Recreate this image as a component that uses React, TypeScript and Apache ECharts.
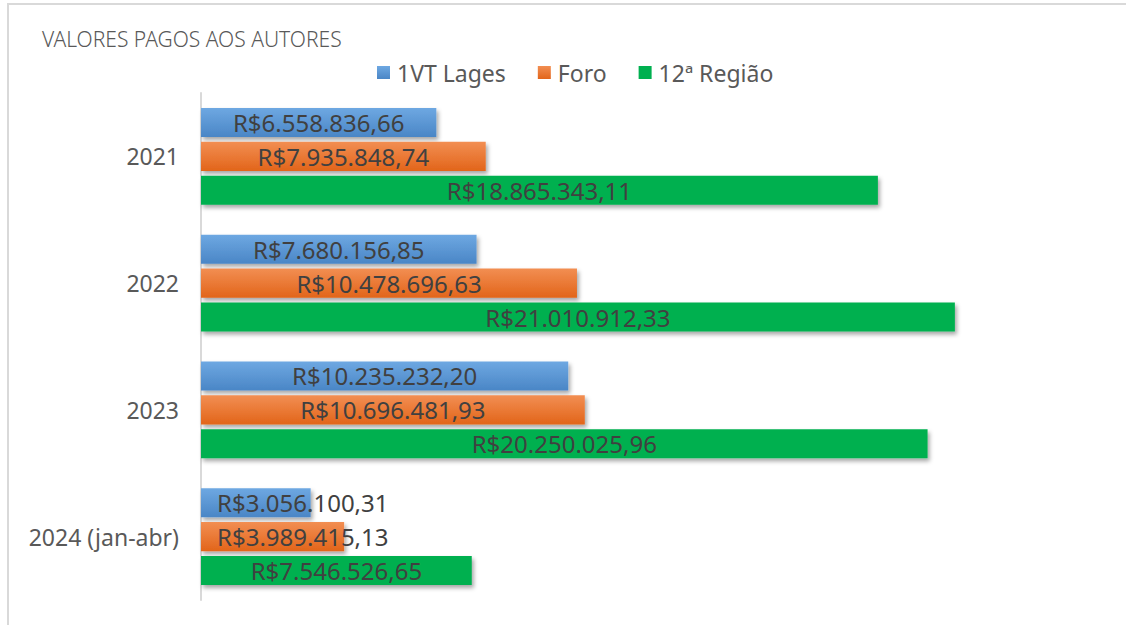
import React, { useEffect, useRef } from "react";
import * as echarts from "echarts";

const categories = ["2021", "2022", "2023", "2024 (jan-abr)"];
const seriesNames = ["1VT Lages", "Foro", "12ª Região"];
const lagesValues = [6558836.66, 7680156.85, 10235232.2, 3056100.31];
const foroValues = [7935848.74, 10478696.63, 10696481.93, 3989415.13];
const regiaoValues = [18865343.11, 21010912.33, 20250025.96, 7546526.65];

const FONT = "'Noto Sans', sans-serif";

function formatBRL(v: number): string {
  const fixed = v.toFixed(2);
  const [intPart, dec] = fixed.split(".");
  const withDots = intPart.replace(/\B(?=(\d{3})+(?!\d))/g, ".");
  return "R$" + withDots + "," + dec;
}

export default function App() {
  const ref = useRef<HTMLDivElement>(null);
  useEffect(() => {
    if (!ref.current) return;
    const chart = echarts.init(ref.current, undefined, { renderer: "svg" });
    const colors = [
      new echarts.graphic.LinearGradient(0, 0, 0, 1, [
        { offset: 0, color: "#6EA8E2" },
        { offset: 1, color: "#4A86C6" },
      ]),
      new echarts.graphic.LinearGradient(0, 0, 0, 1, [
        { offset: 0, color: "#F28E52" },
        { offset: 1, color: "#E2651A" },
      ]),
      "#00B050",
    ];
    const dataSets = [lagesValues, foroValues, regiaoValues];
    const makeData = (vals: number[]) =>
      vals.map((v) =>
        v < 5000000
          ? { value: v, label: { position: "insideLeft", distance: 16 } }
          : { value: v }
      );
    chart.setOption({
      animation: false,
      backgroundColor: "#ffffff",
      title: {
        text: "VALORES PAGOS AOS AUTORES",
        left: 37,
        top: 23,
        textStyle: {
          fontFamily: FONT,
          fontSize: 21,
          fontWeight: 300,
          color: "#595959",
        },
      },
      legend: {
        data: seriesNames,
        left: 372,
        top: 56,
        itemWidth: 13,
        itemHeight: 13,
        itemGap: 32,
        icon: "rect",
        textStyle: { fontFamily: FONT, fontSize: 23, color: "#595959", padding: [0, 0, 0, 2] },
      },
      graphic: [
        {
          type: "rect",
          shape: { x: 8, y: 4, width: 1200, height: 700 },
          style: { fill: "none", stroke: "#D9D9D9", lineWidth: 2 },
          silent: true,
        },
      ],
      grid: { left: 201, top: 93, width: 897, height: 507, containLabel: false },
      xAxis: {
        type: "value",
        min: 0,
        max: 25000000,
        show: false,
        splitLine: { show: false },
      },
      yAxis: {
        type: "category",
        data: categories,
        inverse: true,
        axisLine: { show: true, lineStyle: { color: "#D9D9D9", width: 2 } },
        axisTick: { show: false },
        axisLabel: {
          margin: 22,
          fontFamily: FONT,
          fontSize: 23,
          color: "#595959",
        },
      },
      series: dataSets.map((vals, i) => ({
        name: seriesNames[i],
        type: "bar",
        data: makeData(vals),
        barGap: "17%",
        barCategoryGap: "23.5%",
        itemStyle: {
          color: colors[i],
          shadowBlur: 4,
          shadowOffsetX: 2,
          shadowOffsetY: 3,
          shadowColor: "rgba(0,0,0,0.35)",
        },
        label: {
          show: true,
          position: "inside",
          overflow: "none",
          formatter: (p: any) => formatBRL(p.value),
          fontFamily: FONT,
          fontSize: 24,
          color: "#404040",
          textBorderWidth: 0,
        },
      })),
    });
    return () => chart.dispose();
  }, []);
  return (
    <div
      ref={ref}
      style={{ position: "absolute", left: 0, top: 0, width: 1126, height: 625 }}
    />
  );
}
